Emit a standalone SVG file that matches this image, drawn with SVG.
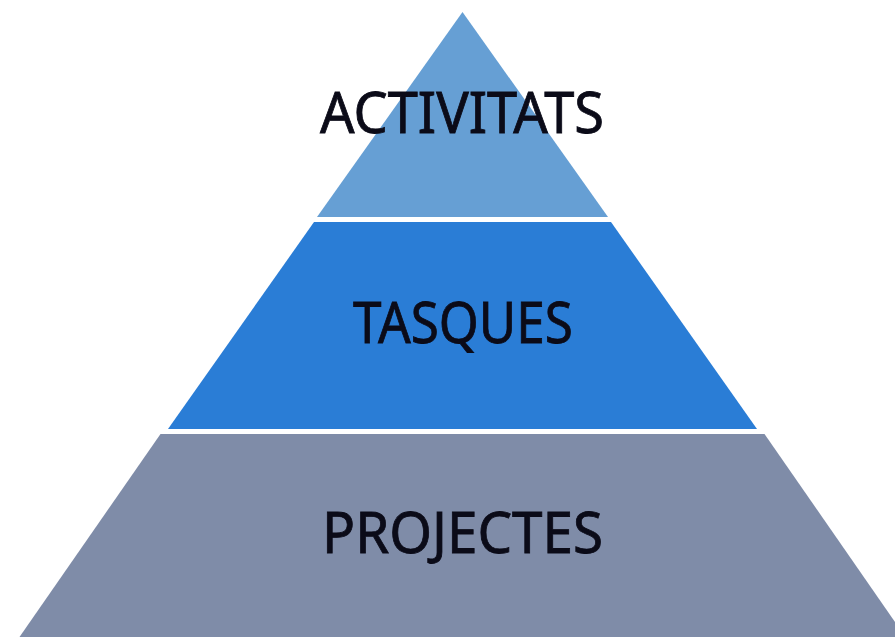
<svg xmlns="http://www.w3.org/2000/svg" width="895" height="637" viewBox="0 0 895 637">
<style>
.lbl{font-family:"Noto Sans","Open Sans","Liberation Sans",sans-serif;font-size:57px;fill:#0b0b18;stroke:#0b0b18;stroke-width:0.8px;}
</style>
<rect width="895" height="637" fill="#ffffff"/>
<g id="bottom">
<polygon points="160.5,434 764.5,434 905.5,637 19.5,637" fill="#7f8ca8"/>
<text class="lbl" x="322" y="553" textLength="281" lengthAdjust="spacingAndGlyphs">PROJECTES</text>
</g>
<g id="middle">
<polygon points="314,222 611,222 757,429 168,429" fill="#2a7dd6"/>
<text class="lbl" x="353" y="343" textLength="220" lengthAdjust="spacingAndGlyphs">TASQUES</text>
</g>
<g id="top">
<polygon points="462.5,12 608,217 317,217" fill="#669fd4"/>
<text class="lbl" x="320" y="133" textLength="284" lengthAdjust="spacingAndGlyphs">ACTIVITATS</text>
</g>
</svg>
